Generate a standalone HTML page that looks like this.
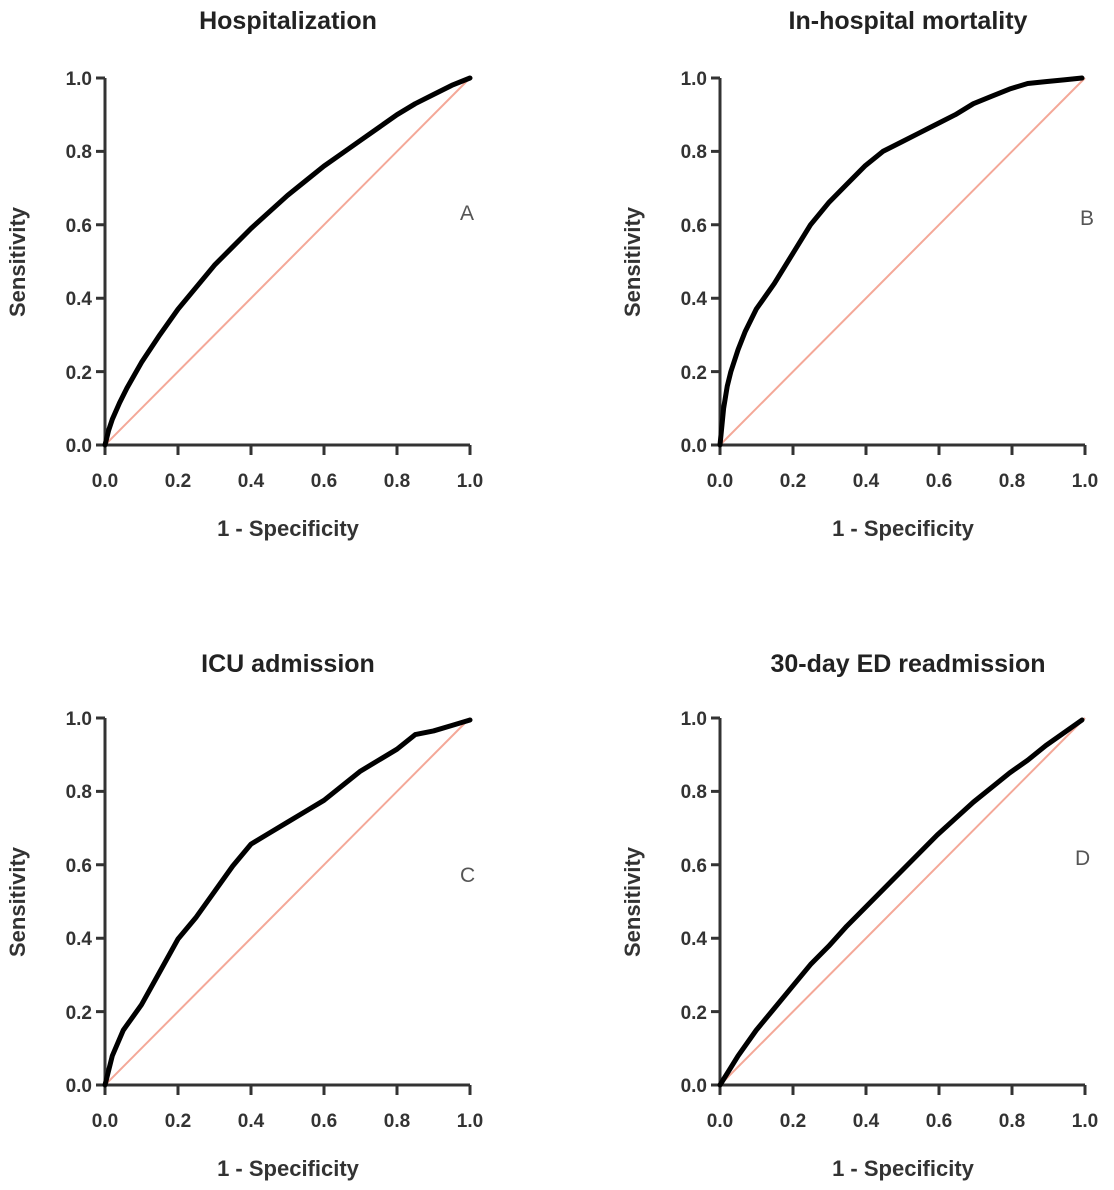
<!DOCTYPE html>
<html><head><meta charset="utf-8"><style>
body{margin:0;background:#fff;}
svg{display:block;font-family:"Liberation Sans",Arial,sans-serif;}
.t{font-size:25px;font-weight:bold;fill:#222;text-anchor:middle;}
.tk{font-size:19px;font-weight:bold;fill:#333;}
.ax{stroke:#333;stroke-width:3;fill:none;}
.c{fill:none;stroke:#000;stroke-width:5;vector-effect:non-scaling-stroke;stroke-linejoin:round;stroke-linecap:round;}
.d{fill:none;stroke:#f4a898;stroke-width:2;vector-effect:non-scaling-stroke;}
.lab{font-size:21px;fill:#555;}
</style></head><body>
<svg width="1114" height="1190" viewBox="0 0 1114 1190">
<defs>
<g id="axes">
  <path class="ax" d="M0,-367 V0 H365"/>
  <path class="ax" d="M-9,0H0M-9,-73.4H0M-9,-146.8H0M-9,-220.2H0M-9,-293.6H0M-9,-367H0"/>
  <path class="ax" d="M0,0V10M73,0V10M146,0V10M219,0V10M292,0V10M365,0V10"/>
  <g class="tk" text-anchor="end">
    <text x="-13" y="7">0.0</text><text x="-13" y="-66">0.2</text><text x="-13" y="-140">0.4</text>
    <text x="-13" y="-213">0.6</text><text x="-13" y="-287">0.8</text><text x="-13" y="-360">1.0</text>
  </g>
  <g class="tk" text-anchor="middle">
    <text x="0" y="42">0.0</text><text x="73" y="42">0.2</text><text x="146" y="42">0.4</text>
    <text x="219" y="42">0.6</text><text x="292" y="42">0.8</text><text x="365" y="42">1.0</text>
  </g>
  <text class="tk" style="font-size:22px" text-anchor="middle" x="183" y="91">1 - Specificity</text>
  <text class="tk" style="font-size:22px" text-anchor="middle" transform="translate(-80,-183) rotate(-90)">Sensitivity</text>
  <g transform="scale(365,-367)"><path class="d" d="M0,0L1,1"/></g>
</g>
</defs>

<text class="t" x="288" y="29">Hospitalization</text>
<text class="t" x="908" y="29">In-hospital mortality</text>
<text class="t" x="288" y="672">ICU admission</text>
<text class="t" x="908" y="672">30-day ED readmission</text>

<g transform="translate(105,445)"><use href="#axes"/>
<g transform="scale(365,-367)"><polyline class="c" points="0,0 0.01,0.04 0.02,0.07 0.04,0.115 0.06,0.155 0.08,0.19 0.1,0.225 0.15,0.3 0.2,0.37 0.25,0.43 0.3,0.49 0.35,0.54 0.4,0.59 0.45,0.635 0.5,0.68 0.55,0.72 0.6,0.76 0.65,0.795 0.7,0.83 0.75,0.865 0.8,0.9 0.85,0.93 0.9,0.955 0.95,0.98 1,1"/></g>
<text class="lab" x="355" y="-225">A</text></g>

<g transform="translate(720,445)"><use href="#axes"/>
<g transform="scale(362,-367)"><polyline class="c" points="0,0 0.01,0.1 0.02,0.16 0.03,0.2 0.05,0.26 0.07,0.31 0.1,0.37 0.15,0.44 0.2,0.52 0.25,0.6 0.3,0.66 0.35,0.71 0.4,0.76 0.45,0.8 0.5,0.825 0.55,0.85 0.6,0.875 0.65,0.9 0.7,0.93 0.75,0.95 0.8,0.97 0.85,0.985 0.9,0.99 0.95,0.995 1,1"/></g>
<text class="lab" x="360" y="-220">B</text></g>

<g transform="translate(105,1085)"><use href="#axes"/>
<g transform="scale(365,-365)"><polyline class="c" points="0,0 0.02,0.08 0.05,0.15 0.1,0.22 0.15,0.31 0.2,0.4 0.25,0.46 0.3,0.53 0.35,0.6 0.4,0.66 0.45,0.69 0.5,0.72 0.55,0.75 0.6,0.78 0.65,0.82 0.7,0.86 0.75,0.89 0.8,0.92 0.85,0.96 0.9,0.97 0.95,0.985 1,1"/></g>
<text class="lab" x="355" y="-203">C</text></g>

<g transform="translate(720,1085)"><use href="#axes"/>
<g transform="scale(362,-365)"><polyline class="c" points="0,0 0.025,0.04 0.05,0.08 0.1,0.15 0.15,0.21 0.2,0.27 0.25,0.33 0.3,0.38 0.35,0.435 0.4,0.485 0.45,0.535 0.5,0.585 0.55,0.635 0.6,0.685 0.65,0.73 0.7,0.775 0.75,0.815 0.8,0.855 0.85,0.89 0.9,0.93 0.95,0.965 1,1"/></g>
<text class="lab" x="355" y="-220">D</text></g>
</svg>
</body></html>
